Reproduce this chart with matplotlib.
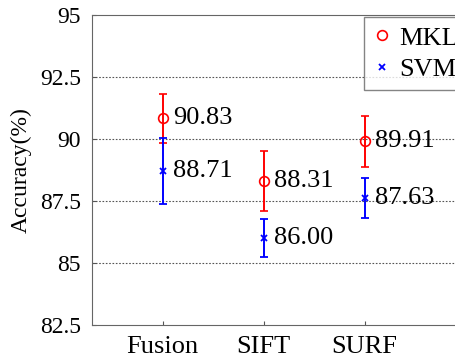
import matplotlib
matplotlib.use('Agg')
import matplotlib.pyplot as plt
from matplotlib.lines import Line2D

plt.rcParams['font.family'] = ['Liberation Serif', 'DejaVu Serif']

categories = ['Fusion', 'SIFT', 'SURF']
mkl_acc = [90.83, 88.31, 89.91]
mkl_err = [1.0, 1.22, 1.03]
svm_acc = [88.71, 86.00, 87.63]
svm_err = [1.33, 0.77, 0.80]
y_ticks = [82.5, 85, 87.5, 90, 92.5, 95]
y_ticklabels = ['82.5', '85', '87.5', '90', '92.5', '95']

x = list(range(1, len(categories) + 1))

fig = plt.figure(figsize=(4.56, 3.6), dpi=100)
ax = fig.add_axes([92 / 456, 35 / 360, 373.7 / 456, 310 / 360])

ax.errorbar(x, mkl_acc, yerr=mkl_err, fmt='o', color='#ff0000', mfc='none',
            ms=7, mew=1.2, elinewidth=1.4, capsize=3, capthick=1.4)
ax.errorbar(x, svm_acc, yerr=svm_err, fmt='x', color='#0000ff',
            ms=4.5, mew=1.3, elinewidth=1.4, capsize=3, capthick=1.4)

for xi, v in zip(x, mkl_acc):
    ax.text(xi + 0.1, v, '%.2f' % v, fontsize=19, va='center', ha='left')
for xi, v in zip(x, svm_acc):
    ax.text(xi + 0.1, v, '%.2f' % v, fontsize=19, va='center', ha='left')

ax.set_xlim(0.3, 4.0)
ax.set_ylim(82.5, 95)
ax.set_xticks(x)
ax.set_xticklabels(categories, fontsize=19)
ax.set_yticks(y_ticks)
ax.set_yticklabels(y_ticklabels, fontsize=17)
ax.tick_params(direction='in', length=3, color='#555555')
ax.tick_params(axis='y', pad=8)
ax.tick_params(axis='x', pad=8)
for s in ax.spines.values():
    s.set_color('#666666')

for yv in y_ticks[1:-1]:
    ax.axhline(yv, color='#555555', ls=(0, (1.5, 1.5)), lw=0.8, zorder=0)

ax.set_ylabel('Accuracy(%)', fontsize=17, labelpad=6)

handles = [Line2D([], [], ls='none', marker='o', mfc='none', color='#ff0000', ms=7, mew=1.2),
           Line2D([], [], ls='none', marker='x', color='#0000ff', ms=4.5, mew=1.3)]
leg = ax.legend(handles, ['MKL', 'SVM'], loc='upper left',
                bbox_to_anchor=((364 - 92) / 373.7, 1 - 2 / 310),
                fontsize=19, frameon=True, fancybox=False, borderpad=0.35,
                handlelength=0.7, handletextpad=0.3, labelspacing=0.3,
                borderaxespad=0)
leg.get_frame().set_edgecolor('#666666')
leg.get_frame().set_linewidth(1.0)

fig.savefig('out.png', dpi=100)
